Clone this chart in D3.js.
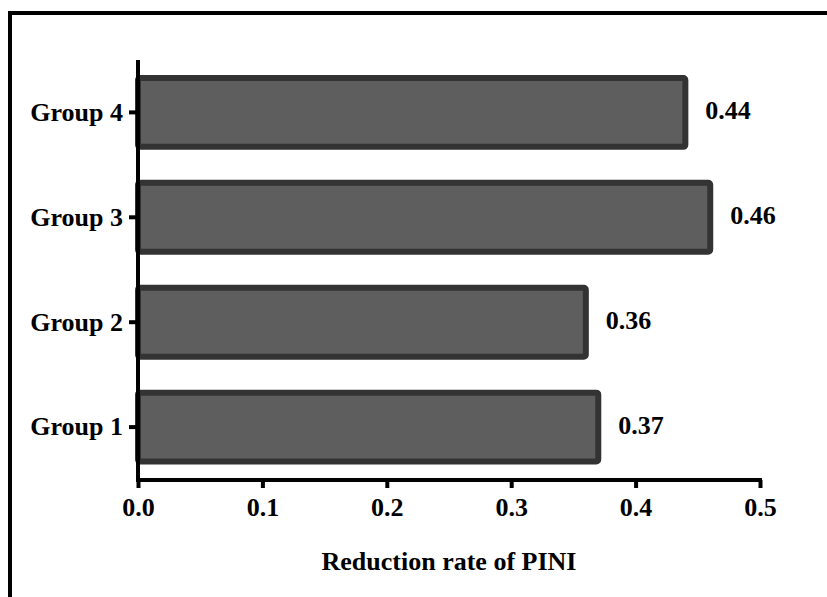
<!DOCTYPE html>
<html>
<head>
<meta charset="utf-8">
<script src="https://cdn.jsdelivr.net/npm/d3@7"></script>
<style>
  body { margin: 0; background: #fff; }
  text { font-family: "Liberation Serif", "Times New Roman", serif; font-weight: bold; fill: #000; }
</style>
</head>
<body>
<svg id="chart"></svg>
<script>
// Data
const groups = ["Group 1", "Group 2", "Group 3", "Group 4"];
const rates = [0.37, 0.36, 0.46, 0.44];
const xTicks = [0, 0.1, 0.2, 0.3, 0.4, 0.5];

const W = 827, H = 597;
const fs = 26;
const svg = d3.select("#chart").attr("width", W).attr("height", H);

// outer frame (only top and left edges visible)
svg.append("path")
  .attr("d", "M10,597 V13 H827")
  .attr("fill", "none")
  .attr("stroke", "#000")
  .attr("stroke-width", 4);

const x = d3.scaleLinear().domain([0, 0.5]).range([138, 760]);
const y = d3.scaleBand().domain(groups).range([479.5, 60])
  .paddingInner(0.343).paddingOuter(0.171);

// bars
svg.selectAll(".bar")
  .data(groups)
  .enter().append("rect")
  .attr("class", "bar")
  .attr("x", x(0))
  .attr("y", d => y(d))
  .attr("width", (d, i) => x(rates[i]) - x(0))
  .attr("height", y.bandwidth())
  .attr("rx", 2)
  .attr("fill", "#5e5e5e")
  .attr("stroke", "#333")
  .attr("stroke-width", 6);

// value labels
svg.selectAll(".val")
  .data(groups)
  .enter().append("text")
  .attr("class", "val")
  .attr("x", (d, i) => x(rates[i]) + 20)
  .attr("y", d => y(d) + y.bandwidth() / 2 + 7)
  .attr("font-size", fs)
  .text((d, i) => rates[i].toFixed(2));

// x axis
const xAxis = svg.append("g")
  .attr("transform", "translate(0,480)")
  .call(d3.axisBottom(x).tickValues(xTicks).tickFormat(d3.format(".1f"))
    .tickSizeInner(8).tickSizeOuter(0).tickPadding(10));
xAxis.select(".domain").attr("stroke-width", 4).attr("d", "M" + (x(0) - 2) + ",0H" + (x(0.5) + 2));
xAxis.selectAll(".tick line").attr("stroke-width", 4);
xAxis.selectAll(".tick text").attr("font-size", fs).attr("font-family", null).attr("fill", "#000");

// y axis
const yAxis = svg.append("g")
  .attr("transform", "translate(138,0)")
  .call(d3.axisLeft(y).tickSizeInner(9).tickSizeOuter(0).tickPadding(6));
yAxis.select(".domain").attr("stroke-width", 4).attr("d", "M0,60V482");
yAxis.selectAll(".tick line").attr("stroke-width", 4);
yAxis.selectAll(".tick text").attr("font-size", fs).attr("font-family", null).attr("fill", "#000");

// axis title
svg.append("text")
  .attr("x", (x(0) + x(0.5)) / 2)
  .attr("y", 570)
  .attr("text-anchor", "middle")
  .attr("font-size", fs)
  .text("Reduction rate of PINI");
</script>
</body>
</html>
